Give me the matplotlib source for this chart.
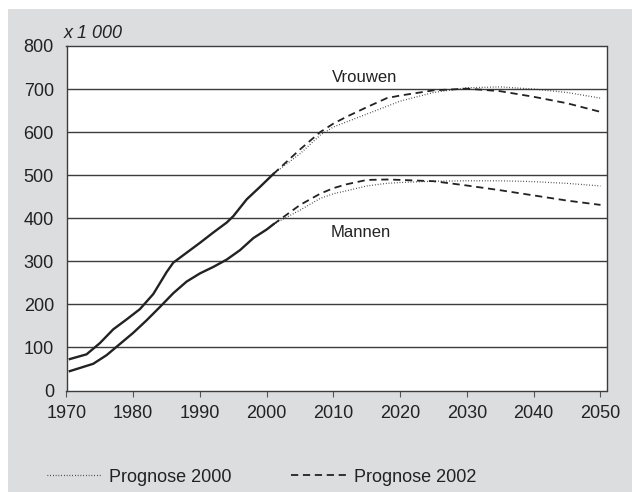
import matplotlib
matplotlib.use("Agg")
import matplotlib.pyplot as plt
from matplotlib.lines import Line2D
from matplotlib.patches import Rectangle

plt.rcParams["font.family"] = ["Liberation Sans", "DejaVu Sans"]

# historical series (x 1 000)
vrouwen_years = [1970.5, 1973, 1975, 1977, 1979, 1981, 1983, 1985, 1986, 1988,
                 1990, 1992, 1994, 1995, 1997, 1999, 2001]
vrouwen_hist = [73, 84, 110, 142, 165, 189, 224, 275, 297, 320,
                343, 367, 390, 405, 444, 473, 503]

mannen_years = [1970.5, 1974, 1976, 1978, 1980, 1982, 1984, 1986, 1988, 1990,
                1992, 1994, 1996, 1998, 2000, 2001]
mannen_hist = [45, 62, 82, 108, 134, 163, 194, 226, 253, 272,
               287, 304, 326, 354, 374, 386]

# projections
prog_years = [2001, 2005, 2008, 2010, 2012, 2015, 2018, 2020, 2025, 2030,
              2035, 2040, 2045, 2050]
vrouwen_p2002 = [503, 560, 600, 620, 636, 658, 679, 685, 697, 701,
                 695, 682, 667, 647]
vrouwen_p2000 = [503, 550, 593, 612, 624, 642, 660, 672, 692, 703,
                 705, 700, 692, 679]
mannen_p2002 = [386, 431, 457, 470, 479, 489, 490, 489, 486, 476,
                465, 453, 441, 431]
mannen_p2000 = [386, 419, 446, 457, 464, 475, 481, 483, 486, 487,
                487, 485, 481, 475]

x_ticks = [1970, 1980, 1990, 2000, 2010, 2020, 2030, 2040, 2050]
y_ticks = [0, 100, 200, 300, 400, 500, 600, 700, 800]

W, H = 632, 492
fig = plt.figure(figsize=(W / 100, H / 100), dpi=100)
fig.patch.set_facecolor("white")
fig.patches.append(Rectangle((8 / W, 0), 1, 1 - 9 / H, transform=fig.transFigure,
                             facecolor="#dcdddf", edgecolor="none", zorder=-5))

ax = fig.add_axes([66.5 / W, 1 - 390.5 / H, 540 / W, 344.5 / H])
ax.set_facecolor("white")
ax.set_zorder(1)

dark = "#222222"
for y in y_ticks[1:-1]:
    ax.axhline(y, color="#3c3c3c", lw=1.0, zorder=1)

dots = (0, (0.6, 1.6))
dashes = (0, (4.0, 2.6))

ax.plot(vrouwen_years, vrouwen_hist, color=dark, lw=1.7, zorder=3)
ax.plot(mannen_years, mannen_hist, color=dark, lw=1.7, zorder=3)
ax.plot(prog_years, vrouwen_p2000, color=dark, lw=0.9, ls=dots, zorder=3)
ax.plot(prog_years, mannen_p2000, color=dark, lw=0.9, ls=dots, zorder=3)
ax.plot(prog_years, vrouwen_p2002, color=dark, lw=1.3, ls=dashes, zorder=3)
ax.plot(prog_years, mannen_p2002, color=dark, lw=1.3, ls=dashes, zorder=3)

ax.text(2014.6, 728, "Vrouwen", ha="center", va="center", fontsize=12, color=dark)
ax.text(2014.1, 366, "Mannen", ha="center", va="center", fontsize=12, color=dark)

ax.set_xlim(1970, 2050.9)
ax.set_ylim(0, 800)
ax.set_xticks(x_ticks)
ax.set_yticks(y_ticks)
ax.tick_params(axis="x", direction="out", length=4.5, width=0.8, color="#555555",
               pad=6, labelsize=13, labelcolor=dark)
ax.tick_params(axis="y", length=0, pad=9, labelsize=13, labelcolor=dark)
for s in ax.spines.values():
    s.set_color("#3c3c3c")
    s.set_linewidth(1.0)

fig.text(64 / W, 1 - 33 / H, "x 1 000", ha="left", va="center", fontsize=13,
         style="italic", color=dark)

handles = [Line2D([], [], color=dark, lw=0.9, ls=dots),
           Line2D([], [], color=dark, lw=1.3, ls=dashes)]
fig.legend(handles, ["Prognose 2000", "Prognose 2002"], ncol=2,
           loc="center left", bbox_to_anchor=(47 / W, 1 - 477 / H),
           bbox_transform=fig.transFigure, frameon=False, fontsize=13,
           handlelength=3.0, handletextpad=0.45, columnspacing=3.3,
           borderpad=0, borderaxespad=0, labelcolor=dark)

fig.savefig("out.png", dpi=100)
